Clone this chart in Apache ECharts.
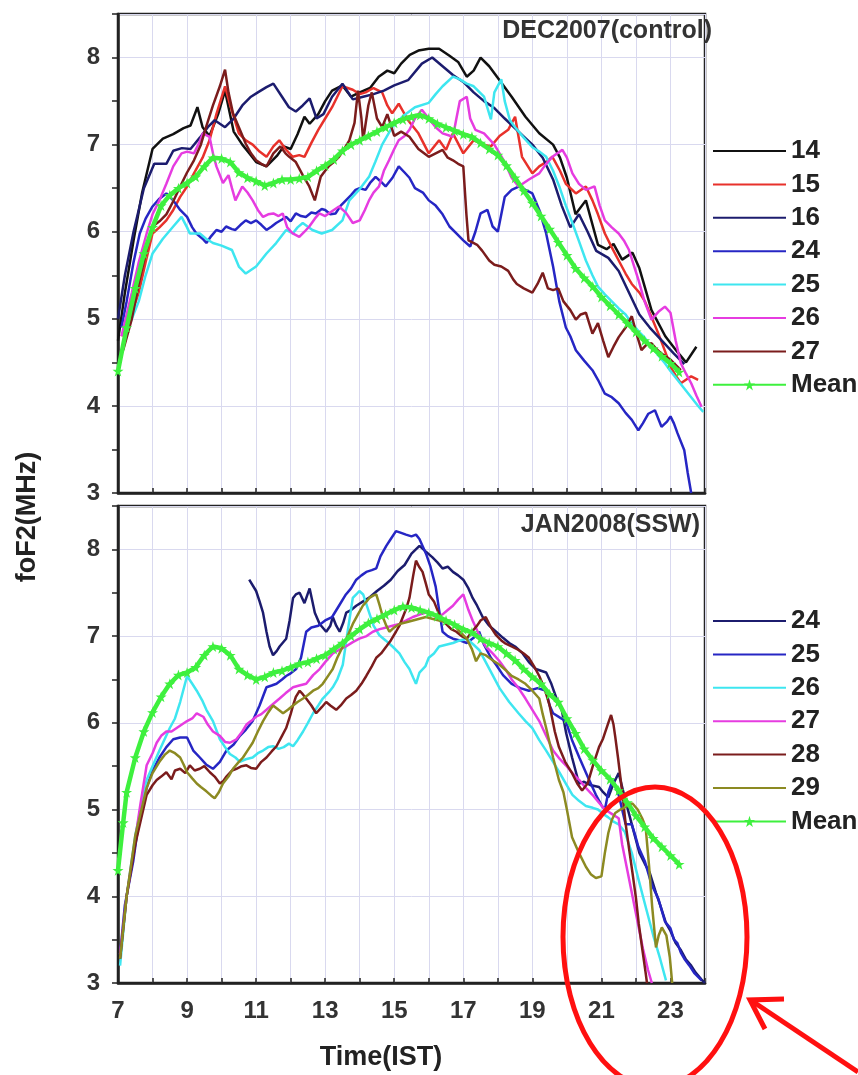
<!DOCTYPE html>
<html>
<head>
<meta charset="utf-8">
<title>foF2 DEC2007 / JAN2008</title>
<script src="https://cdn.jsdelivr.net/npm/echarts@6/dist/echarts.min.js"></script>
<style>
  html, body { margin: 0; padding: 0; background: #fff; }
  #main { width: 858px; height: 1075px; }
</style>
</head>
<body>
<div id="main"></div>
<script>
// x 轴刻度 (IST 小时)
var hourTicks = [7, 9, 11, 13, 15, 17, 19, 21, 23];

// DEC2007 (control): [time, foF2]
var dec14 = [[7.0,4.75],[7.2,5.3],[7.45,5.9],[7.7,6.45],[8.0,6.95],[8.3,7.07],[8.6,7.12],[8.9,7.19],[9.1,7.22],[9.3,7.43],[9.45,7.2],[9.65,7.1],[9.9,7.35],[10.1,7.62],[10.35,7.15],[10.6,7.0],[10.8,6.9],[11.0,6.8],[11.3,6.75],[11.6,6.87],[11.8,6.98],[12.0,6.95],[12.2,7.12],[12.4,7.32],[12.55,7.24],[12.8,7.35],[13.0,7.5],[13.2,7.62],[13.5,7.68],[13.75,7.55],[14.0,7.6],[14.3,7.65],[14.55,7.78],[14.8,7.85],[15.0,7.82],[15.2,7.93],[15.45,8.03],[15.7,8.08],[16.0,8.1],[16.3,8.1],[16.6,8.02],[16.85,7.95],[17.1,7.78],[17.3,7.85],[17.5,8.0],[17.75,7.9],[18.05,7.74],[18.4,7.55],[18.8,7.32],[19.2,7.13],[19.6,7.0],[19.8,6.85],[20.0,6.62],[20.25,6.2],[20.55,6.36],[20.9,5.85],[21.15,5.8],[21.35,5.86],[21.6,5.68],[21.9,5.76],[22.1,5.58],[22.45,5.1],[22.85,4.8],[23.2,4.62],[23.45,4.5],[23.75,4.68]];
var dec15 = [[7.1,4.8],[7.35,5.0],[7.6,5.3],[7.8,5.65],[8.0,5.98],[8.2,6.05],[8.4,6.13],[8.6,6.25],[8.8,6.4],[9.0,6.52],[9.2,6.67],[9.45,6.85],[9.65,7.05],[9.85,7.35],[10.1,7.67],[10.25,7.45],[10.5,7.13],[10.7,7.05],[10.9,7.0],[11.1,6.92],[11.3,6.86],[11.5,6.98],[11.67,7.05],[11.85,6.95],[12.06,6.86],[12.25,6.88],[12.4,6.86],[12.6,7.02],[12.8,7.17],[13.0,7.3],[13.2,7.43],[13.35,7.55],[13.5,7.67],[13.8,7.63],[14.0,7.58],[14.17,7.6],[14.4,7.65],[14.65,7.6],[14.8,7.45],[14.94,7.36],[15.13,7.47],[15.4,7.28],[15.7,7.13],[16.0,6.9],[16.3,7.05],[16.5,6.94],[16.7,7.13],[17.0,6.9],[17.3,7.05],[17.6,7.0],[17.8,6.98],[18.05,7.1],[18.3,7.17],[18.5,7.32],[18.7,6.86],[19.0,6.67],[19.2,6.75],[19.4,6.8],[19.58,6.86],[19.8,6.7],[19.97,6.55],[20.26,6.44],[20.55,6.52],[20.74,6.36],[20.9,6.2],[21.1,5.98],[21.3,5.82],[21.5,5.67],[21.7,5.52],[21.88,5.4],[22.1,5.3],[22.26,5.2],[22.45,5.02],[22.65,4.83],[22.85,4.62],[23.0,4.45],[23.15,4.35],[23.3,4.26],[23.45,4.3],[23.6,4.34],[23.8,4.3]];
var dec16 = [[7.0,5.0],[7.2,5.5],[7.45,6.0],[7.75,6.5],[8.05,6.78],[8.4,6.78],[8.6,6.93],[8.85,6.96],[9.1,6.95],[9.37,7.08],[9.6,7.2],[9.8,7.28],[10.1,7.2],[10.35,7.3],[10.6,7.45],[10.85,7.55],[11.05,7.6],[11.3,7.66],[11.5,7.7],[11.75,7.55],[11.95,7.43],[12.15,7.38],[12.35,7.45],[12.55,7.53],[12.75,7.3],[12.95,7.35],[13.2,7.55],[13.5,7.7],[13.8,7.52],[14.1,7.55],[14.4,7.58],[14.7,7.62],[15.0,7.68],[15.4,7.74],[15.8,7.93],[16.1,8.0],[16.4,7.9],[16.7,7.8],[17.0,7.72],[17.3,7.6],[17.6,7.5],[17.9,7.42],[18.2,7.3],[18.6,7.15],[19.0,7.0],[19.3,6.85],[19.6,6.6],[19.85,6.3],[20.1,6.05],[20.35,6.2],[20.6,6.0],[20.85,5.78],[21.2,5.7],[21.5,5.55],[21.8,5.3],[22.1,5.05],[22.4,4.9],[22.75,4.75],[23.1,4.6],[23.4,4.48]];
var dec24 = [[7.1,4.9],[7.25,5.2],[7.45,5.65],[7.63,5.98],[7.8,6.15],[8.0,6.29],[8.2,6.38],[8.4,6.44],[8.6,6.36],[8.8,6.25],[9.0,6.17],[9.15,6.05],[9.27,5.98],[9.45,5.92],[9.56,5.87],[9.7,5.95],[9.85,6.02],[10.0,6.0],[10.13,6.06],[10.3,6.03],[10.4,6.02],[10.55,6.08],[10.7,6.13],[10.85,6.1],[11.0,6.13],[11.15,6.08],[11.3,6.02],[11.45,6.06],[11.58,6.1],[11.75,6.14],[11.87,6.17],[12.0,6.12],[12.15,6.21],[12.3,6.18],[12.44,6.17],[12.6,6.22],[12.73,6.21],[12.9,6.26],[13.0,6.25],[13.15,6.2],[13.3,6.21],[13.45,6.3],[13.6,6.36],[13.75,6.42],[13.88,6.48],[14.0,6.5],[14.17,6.48],[14.3,6.56],[14.46,6.63],[14.6,6.58],[14.75,6.52],[14.95,6.62],[15.13,6.75],[15.3,6.68],[15.44,6.62],[15.6,6.5],[15.83,6.45],[16.0,6.36],[16.2,6.3],[16.4,6.2],[16.6,6.06],[16.8,5.98],[17.0,5.9],[17.2,5.83],[17.35,6.0],[17.5,6.21],[17.7,6.25],[17.85,6.06],[18.0,6.0],[18.2,6.4],[18.4,6.48],[18.62,6.52],[18.8,6.48],[19.0,6.44],[19.2,6.25],[19.4,5.98],[19.6,5.6],[19.78,5.2],[19.97,4.9],[20.1,4.8],[20.26,4.64],[20.5,4.52],[20.74,4.41],[20.9,4.3],[21.1,4.14],[21.3,4.1],[21.5,4.03],[21.7,3.92],[21.88,3.84],[22.07,3.72],[22.2,3.8],[22.36,3.91],[22.55,3.95],[22.74,3.76],[22.9,3.82],[23.0,3.88],[23.1,3.8],[23.2,3.69],[23.4,3.49],[23.5,3.23],[23.6,3.0]];
var dec25 = [[7.1,4.6],[7.35,4.95],[7.6,5.2],[7.8,5.5],[8.0,5.75],[8.3,5.92],[8.6,6.06],[8.84,6.17],[9.0,6.05],[9.08,5.98],[9.37,5.98],[9.55,5.92],[9.75,5.87],[10.0,5.84],[10.3,5.79],[10.5,5.6],[10.7,5.52],[10.85,5.56],[11.0,5.6],[11.3,5.75],[11.58,5.87],[11.87,6.02],[12.06,5.98],[12.2,6.05],[12.35,6.1],[12.63,6.02],[12.9,5.98],[13.2,6.02],[13.5,6.13],[13.7,6.36],[13.98,6.48],[14.27,6.63],[14.45,6.8],[14.65,7.0],[14.94,7.2],[15.23,7.32],[15.6,7.43],[16.0,7.48],[16.2,7.58],[16.4,7.67],[16.7,7.78],[16.9,7.75],[17.1,7.7],[17.3,7.67],[17.6,7.55],[17.8,7.29],[17.9,7.6],[18.1,7.75],[18.2,7.5],[18.35,7.28],[18.5,7.2],[18.75,7.08],[19.0,6.97],[19.2,6.92],[19.4,6.86],[19.6,6.7],[19.78,6.52],[19.97,6.3],[20.16,6.1],[20.36,5.88],[20.55,5.67],[20.74,5.5],[20.9,5.37],[21.1,5.28],[21.3,5.2],[21.5,5.12],[21.7,5.05],[21.88,4.95],[22.07,4.86],[22.26,4.78],[22.45,4.68],[22.65,4.58],[22.84,4.49],[23.0,4.4],[23.2,4.3],[23.4,4.2],[23.6,4.1],[23.8,4.0],[23.95,3.93]];
var dec26 = [[7.1,4.8],[7.4,5.3],[7.6,5.65],[7.83,5.98],[8.0,6.2],[8.2,6.36],[8.4,6.55],[8.6,6.75],[8.84,6.9],[9.0,6.92],[9.2,6.9],[9.35,7.02],[9.46,7.13],[9.65,7.09],[9.75,6.9],[9.85,6.75],[10.04,6.56],[10.2,6.65],[10.3,6.5],[10.4,6.36],[10.6,6.52],[10.75,6.45],[10.9,6.36],[11.05,6.25],[11.2,6.17],[11.35,6.2],[11.5,6.21],[11.65,6.18],[11.77,6.21],[11.9,6.05],[12.06,5.98],[12.25,5.94],[12.4,6.0],[12.54,6.06],[12.7,6.15],[12.83,6.21],[13.0,6.18],[13.1,6.21],[13.25,6.25],[13.4,6.29],[13.6,6.22],[13.8,6.1],[14.0,6.13],[14.15,6.25],[14.27,6.36],[14.4,6.45],[14.56,6.52],[14.7,6.7],[14.85,6.82],[15.0,6.95],[15.13,7.05],[15.3,7.1],[15.44,7.17],[15.6,7.3],[15.8,7.4],[16.0,7.3],[16.2,7.2],[16.4,7.13],[16.7,7.09],[16.8,7.3],[16.9,7.5],[17.1,7.55],[17.2,7.3],[17.35,7.17],[17.6,7.13],[17.9,7.0],[18.2,6.8],[18.4,6.62],[18.6,6.52],[18.9,6.6],[19.2,6.67],[19.4,6.78],[19.58,6.86],[19.87,6.94],[20.0,6.85],[20.16,6.67],[20.35,6.55],[20.55,6.48],[20.8,6.52],[20.95,6.3],[21.1,6.13],[21.3,6.05],[21.5,5.98],[21.65,5.9],[21.8,5.79],[21.95,5.6],[22.07,5.45],[22.25,5.2],[22.45,4.99],[22.65,5.08],[22.84,5.14],[23.0,5.07],[23.15,4.75],[23.3,4.49],[23.45,4.37],[23.6,4.26],[23.75,4.12],[23.9,3.99]];
var dec27 = [[7.15,4.64],[7.4,5.0],[7.6,5.4],[7.8,5.75],[8.0,6.06],[8.2,6.12],[8.4,6.2],[8.6,6.35],[8.8,6.52],[9.0,6.68],[9.2,6.82],[9.4,7.0],[9.55,7.2],[9.75,7.45],[9.95,7.67],[10.1,7.86],[10.2,7.6],[10.33,7.36],[10.5,7.2],[10.7,7.01],[10.85,6.9],[11.0,6.82],[11.15,6.78],[11.3,6.75],[11.5,6.9],[11.7,6.98],[11.85,6.9],[11.96,6.86],[12.15,6.8],[12.35,6.65],[12.54,6.52],[12.7,6.36],[12.87,6.63],[13.0,6.7],[13.1,6.75],[13.25,6.8],[13.4,6.86],[13.55,6.95],[13.7,7.05],[13.85,7.25],[13.95,7.62],[14.05,7.3],[14.1,7.05],[14.25,7.45],[14.35,7.6],[14.5,7.3],[14.65,7.2],[14.8,7.35],[15.0,7.1],[15.2,7.15],[15.44,7.09],[15.7,6.95],[16.0,6.86],[16.2,6.9],[16.4,6.94],[16.55,6.85],[16.7,6.82],[16.85,6.78],[17.0,6.75],[17.09,6.2],[17.15,5.9],[17.25,5.88],[17.4,5.85],[17.55,5.78],[17.75,5.67],[17.9,5.62],[18.1,5.6],[18.3,5.55],[18.45,5.45],[18.55,5.4],[18.75,5.35],[19.0,5.3],[19.15,5.4],[19.3,5.53],[19.45,5.35],[19.6,5.33],[19.75,5.35],[19.9,5.2],[20.1,5.1],[20.26,4.99],[20.4,5.05],[20.55,5.07],[20.74,4.83],[20.9,4.95],[21.05,4.75],[21.2,4.56],[21.35,4.68],[21.5,4.79],[21.7,4.9],[21.88,5.03],[22.0,4.85],[22.16,4.64],[22.3,4.7],[22.45,4.72],[22.6,4.65],[22.74,4.6],[22.9,4.56],[23.0,4.53],[23.15,4.47],[23.3,4.41]];
var decMean = [[7.0,4.4],[7.25,4.9],[7.5,5.35],[7.75,5.75],[8.0,6.05],[8.25,6.3],[8.5,6.42],[8.75,6.5],[9.0,6.56],[9.25,6.63],[9.5,6.75],[9.75,6.85],[10.0,6.84],[10.25,6.8],[10.5,6.68],[10.75,6.62],[11.0,6.58],[11.25,6.53],[11.5,6.56],[11.75,6.6],[12.0,6.6],[12.25,6.61],[12.5,6.63],[12.75,6.7],[13.0,6.76],[13.25,6.83],[13.5,6.93],[13.75,7.0],[14.0,7.05],[14.25,7.1],[14.5,7.15],[14.75,7.2],[15.0,7.25],[15.25,7.29],[15.5,7.32],[15.75,7.34],[16.0,7.3],[16.25,7.24],[16.5,7.2],[16.75,7.16],[17.0,7.12],[17.25,7.09],[17.5,7.02],[17.75,6.95],[18.0,6.88],[18.25,6.76],[18.5,6.62],[18.75,6.47],[19.0,6.33],[19.25,6.18],[19.5,6.03],[19.75,5.88],[20.0,5.73],[20.25,5.58],[20.5,5.47],[20.75,5.37],[21.0,5.25],[21.25,5.15],[21.5,5.05],[21.75,4.95],[22.0,4.85],[22.25,4.75],[22.5,4.66],[22.75,4.57],[23.0,4.49],[23.25,4.39]];

// JAN2008 (SSW)
var jan24 = [[10.8,7.65],[11.0,7.52],[11.1,7.4],[11.2,7.27],[11.3,7.05],[11.39,6.88],[11.49,6.78],[11.6,6.83],[11.68,6.88],[11.87,6.97],[11.97,7.18],[12.07,7.44],[12.15,7.48],[12.26,7.5],[12.4,7.38],[12.55,7.55],[12.7,7.27],[12.84,7.14],[13.03,7.05],[13.15,7.12],[13.22,7.22],[13.32,7.12],[13.42,7.05],[13.52,7.15],[13.61,7.27],[13.75,7.3],[13.9,7.35],[14.1,7.4],[14.3,7.45],[14.5,7.52],[14.7,7.58],[14.9,7.65],[15.1,7.75],[15.3,7.82],[15.5,7.95],[15.73,8.04],[15.9,7.98],[16.1,7.91],[16.25,7.85],[16.4,7.78],[16.55,7.8],[16.7,7.74],[16.85,7.7],[17.0,7.65],[17.15,7.55],[17.27,7.44],[17.4,7.35],[17.56,7.22],[17.75,7.12],[17.95,7.05],[18.15,6.98],[18.33,6.92],[18.5,6.88],[18.72,6.8],[18.9,6.7],[19.1,6.62],[19.25,6.6],[19.4,6.58],[19.55,6.45],[19.7,6.28],[19.85,6.15],[19.98,5.88],[20.15,5.6],[20.35,5.3],[20.5,5.32],[20.7,5.28],[20.93,5.26],[21.05,5.2],[21.2,5.14],[21.35,5.3],[21.5,5.42],[21.7,5.1],[21.9,4.8],[22.1,4.5],[22.25,4.38],[22.4,4.27],[22.58,4.04],[22.7,3.9],[22.87,3.69],[23.0,3.6],[23.15,3.46],[23.3,3.38],[23.45,3.27],[23.6,3.2],[23.73,3.12],[23.9,3.04],[24.0,3.0]];
var jan25 = [[7.06,3.33],[7.2,3.9],[7.44,4.4],[7.6,4.85],[7.83,5.25],[8.0,5.45],[8.2,5.6],[8.4,5.72],[8.6,5.81],[8.8,5.83],[9.0,5.83],[9.18,5.68],[9.37,5.6],[9.55,5.52],[9.75,5.47],[9.95,5.55],[10.14,5.68],[10.35,5.75],[10.53,5.85],[10.7,5.92],[10.9,6.02],[11.1,6.2],[11.3,6.41],[11.45,6.43],[11.59,6.45],[11.75,6.5],[11.87,6.54],[12.0,6.57],[12.16,6.62],[12.3,6.75],[12.45,7.05],[12.6,7.1],[12.8,7.12],[13.0,7.18],[13.2,7.22],[13.4,7.35],[13.6,7.48],[13.75,7.55],[13.9,7.65],[14.05,7.7],[14.19,7.74],[14.35,7.76],[14.48,7.78],[14.6,7.92],[14.77,8.04],[14.9,8.12],[15.05,8.21],[15.2,8.19],[15.34,8.17],[15.5,8.15],[15.63,8.17],[15.73,8.12],[15.92,7.95],[16.05,7.8],[16.2,7.57],[16.3,7.3],[16.4,7.05],[16.55,7.0],[16.7,6.97],[16.9,6.95],[17.1,6.92],[17.3,6.98],[17.46,7.05],[17.6,6.9],[17.8,6.75],[17.95,6.67],[18.15,6.55],[18.4,6.45],[18.65,6.4],[18.9,6.37],[19.15,6.4],[19.4,6.37],[19.5,6.2],[19.6,6.11],[19.8,6.06],[19.97,6.02],[20.15,5.8],[20.36,5.6],[20.6,5.38],[20.84,5.17],[21.0,5.05],[21.1,5.0],[21.2,5.2],[21.33,5.34],[21.42,5.25],[21.5,5.17],[21.6,5.0],[21.7,4.83],[21.88,4.83],[21.98,4.7],[22.07,4.57],[22.26,4.4],[22.45,4.14],[22.65,3.97],[22.84,3.71],[23.0,3.63],[23.1,3.5],[23.2,3.46],[23.3,3.35],[23.4,3.28],[23.55,3.2],[23.7,3.11],[23.9,3.03]];
var jan26 = [[7.06,3.2],[7.25,4.0],[7.5,4.7],[7.83,5.34],[8.0,5.5],[8.2,5.68],[8.5,5.94],[8.65,6.05],[8.8,6.24],[9.0,6.54],[9.15,6.45],[9.28,6.37],[9.45,6.25],[9.56,6.15],[9.75,6.02],[9.95,5.81],[10.1,5.72],[10.24,5.64],[10.4,5.6],[10.53,5.55],[10.7,5.58],[10.9,5.6],[11.05,5.65],[11.2,5.68],[11.35,5.72],[11.49,5.73],[11.65,5.7],[11.8,5.72],[11.95,5.76],[12.07,5.73],[12.2,5.8],[12.36,5.9],[12.5,6.0],[12.65,6.11],[12.8,6.2],[12.93,6.28],[13.1,6.35],[13.22,6.41],[13.35,6.5],[13.51,6.67],[13.65,7.05],[13.8,7.44],[13.9,7.48],[13.99,7.52],[14.1,7.48],[14.25,7.3],[14.4,7.12],[14.57,7.01],[14.75,6.95],[14.95,6.88],[15.15,6.8],[15.3,6.7],[15.44,6.62],[15.55,6.52],[15.63,6.45],[15.73,6.58],[15.9,6.65],[16.0,6.75],[16.15,6.8],[16.3,6.88],[16.5,6.9],[16.7,6.92],[16.9,6.95],[17.1,6.97],[17.3,6.9],[17.46,6.84],[17.65,6.7],[17.85,6.55],[18.05,6.4],[18.33,6.24],[18.6,6.11],[18.8,6.02],[19.0,5.94],[19.2,5.8],[19.4,5.68],[19.6,5.55],[19.78,5.43],[19.97,5.3],[20.16,5.17],[20.35,5.1],[20.55,5.04],[20.75,5.02],[20.9,5.0],[21.05,4.95],[21.2,4.91],[21.35,4.86],[21.5,4.83],[21.68,4.74],[21.88,4.5],[22.07,4.2],[22.3,3.85],[22.5,3.55],[22.7,3.28],[22.87,3.03]];
var jan27 = [[7.06,3.33],[7.25,4.0],[7.44,4.5],[7.64,5.04],[7.83,5.51],[8.0,5.65],[8.12,5.77],[8.25,5.85],[8.4,5.9],[8.55,5.9],[8.7,5.94],[8.85,5.98],[9.0,6.02],[9.15,6.05],[9.28,6.11],[9.47,6.07],[9.6,5.98],[9.75,5.9],[9.95,5.85],[10.1,5.78],[10.24,5.77],[10.43,5.81],[10.6,5.9],[10.72,5.98],[10.85,6.02],[11.0,6.07],[11.15,6.1],[11.3,6.15],[11.5,6.22],[11.68,6.28],[11.85,6.34],[12.07,6.41],[12.25,6.43],[12.45,6.45],[12.65,6.55],[12.84,6.62],[13.0,6.7],[13.22,6.8],[13.4,6.84],[13.6,6.88],[13.8,6.93],[13.99,6.97],[14.2,7.0],[14.38,7.05],[14.58,7.08],[14.77,7.1],[14.95,7.12],[15.15,7.14],[15.35,7.18],[15.54,7.22],[15.75,7.25],[16.0,7.28],[16.2,7.22],[16.4,7.25],[16.55,7.3],[16.7,7.35],[16.85,7.42],[17.0,7.48],[17.15,7.3],[17.27,7.18],[17.45,7.02],[17.65,6.88],[17.85,6.8],[18.05,6.71],[18.25,6.6],[18.4,6.5],[18.6,6.4],[18.8,6.28],[19.0,6.15],[19.2,6.02],[19.4,5.85],[19.6,5.68],[19.8,5.58],[19.97,5.51],[20.16,5.42],[20.36,5.34],[20.55,5.25],[20.74,5.17],[20.93,5.08],[21.1,5.0],[21.3,4.95],[21.5,4.9],[21.6,4.6],[21.75,4.3],[21.9,4.0],[22.05,3.7],[22.2,3.4],[22.35,3.15],[22.46,3.0]];
var jan28 = [[7.06,3.28],[7.25,4.0],[7.5,4.6],[7.83,5.17],[8.0,5.28],[8.12,5.34],[8.25,5.38],[8.4,5.43],[8.55,5.35],[8.65,5.45],[8.8,5.47],[8.95,5.42],[9.08,5.51],[9.22,5.45],[9.37,5.47],[9.5,5.5],[9.66,5.43],[9.8,5.38],[9.95,5.3],[10.05,5.33],[10.14,5.38],[10.3,5.45],[10.43,5.47],[10.58,5.5],[10.72,5.51],[10.85,5.48],[11.0,5.47],[11.15,5.55],[11.3,5.6],[11.45,5.67],[11.59,5.73],[11.75,5.85],[11.87,5.94],[12.0,6.1],[12.07,6.2],[12.15,6.3],[12.26,6.37],[12.35,6.33],[12.45,6.28],[12.6,6.2],[12.74,6.11],[12.9,6.18],[13.03,6.24],[13.15,6.2],[13.32,6.15],[13.45,6.2],[13.61,6.28],[13.75,6.32],[13.9,6.37],[14.05,6.45],[14.19,6.54],[14.35,6.65],[14.48,6.75],[14.62,6.8],[14.77,6.88],[14.9,6.95],[15.05,7.05],[15.15,7.12],[15.25,7.22],[15.35,7.32],[15.44,7.44],[15.55,7.7],[15.63,7.87],[15.72,7.8],[15.82,7.74],[15.92,7.6],[16.0,7.48],[16.15,7.4],[16.3,7.25],[16.5,7.14],[16.65,7.08],[16.8,7.05],[16.95,7.0],[17.1,6.97],[17.25,7.05],[17.4,7.12],[17.5,7.18],[17.65,7.22],[17.8,7.1],[17.95,7.01],[18.1,6.95],[18.2,6.92],[18.4,6.88],[18.6,6.84],[18.75,6.8],[18.9,6.75],[19.05,6.65],[19.2,6.54],[19.35,6.4],[19.5,6.2],[19.65,5.9],[19.77,5.72],[19.95,5.55],[20.15,5.42],[20.3,5.3],[20.44,5.22],[20.6,5.3],[20.75,5.5],[20.93,5.72],[21.05,5.82],[21.1,5.88],[21.2,6.0],[21.28,6.09],[21.35,5.98],[21.4,5.84],[21.48,5.6],[21.56,5.34],[21.63,5.1],[21.7,4.84],[21.8,4.55],[21.9,4.27],[22.0,3.98],[22.08,3.69],[22.18,3.4],[22.28,3.12],[22.32,3.0]];
var jan29 = [[7.06,3.28],[7.25,4.0],[7.5,4.7],[7.83,5.25],[8.0,5.42],[8.2,5.55],[8.35,5.63],[8.5,5.68],[8.65,5.65],[8.8,5.6],[8.9,5.52],[9.0,5.43],[9.15,5.36],[9.28,5.3],[9.4,5.26],[9.56,5.21],[9.7,5.16],[9.8,5.13],[9.92,5.2],[10.04,5.3],[10.2,5.38],[10.33,5.47],[10.5,5.55],[10.62,5.6],[10.75,5.68],[10.9,5.77],[11.05,5.9],[11.2,6.02],[11.35,6.12],[11.49,6.2],[11.65,6.15],[11.78,6.11],[11.92,6.15],[12.07,6.2],[12.2,6.24],[12.36,6.28],[12.5,6.32],[12.65,6.37],[12.8,6.4],[12.93,6.45],[13.1,6.55],[13.22,6.62],[13.35,6.75],[13.51,6.88],[13.65,7.0],[13.8,7.14],[13.95,7.25],[14.09,7.35],[14.2,7.4],[14.28,7.44],[14.4,7.47],[14.48,7.48],[14.58,7.35],[14.67,7.22],[14.77,7.12],[14.86,7.05],[15.0,7.1],[15.15,7.14],[15.35,7.16],[15.54,7.18],[15.73,7.2],[15.92,7.22],[16.1,7.2],[16.3,7.18],[16.5,7.16],[16.7,7.14],[16.9,7.05],[17.1,6.97],[17.25,6.85],[17.37,6.71],[17.5,6.8],[17.65,6.78],[17.85,6.72],[18.05,6.67],[18.25,6.6],[18.4,6.54],[18.6,6.5],[18.8,6.45],[19.0,6.37],[19.2,6.28],[19.3,6.1],[19.4,5.94],[19.5,5.77],[19.6,5.6],[19.77,5.34],[19.9,5.2],[20.0,5.0],[20.15,4.68],[20.35,4.5],[20.55,4.34],[20.7,4.25],[20.84,4.21],[21.0,4.23],[21.1,4.5],[21.2,4.73],[21.3,4.88],[21.4,4.96],[21.55,5.0],[21.7,5.03],[21.9,5.07],[22.05,5.0],[22.18,4.9],[22.28,4.8],[22.38,4.35],[22.47,3.88],[22.58,3.41],[22.66,3.55],[22.75,3.64],[22.88,3.55],[22.98,3.3],[23.05,3.0]];
var janMean = [[7.0,4.3],[7.15,4.85],[7.25,5.2],[7.5,5.6],[7.75,5.9],[8.0,6.12],[8.25,6.3],[8.5,6.45],[8.75,6.55],[9.0,6.58],[9.25,6.64],[9.5,6.78],[9.75,6.88],[10.0,6.86],[10.25,6.78],[10.5,6.62],[10.75,6.55],[11.0,6.5],[11.25,6.53],[11.5,6.58],[11.75,6.6],[12.0,6.64],[12.25,6.68],[12.5,6.7],[12.75,6.74],[13.0,6.78],[13.25,6.85],[13.5,6.92],[13.75,7.0],[14.0,7.08],[14.25,7.15],[14.5,7.2],[14.75,7.25],[15.0,7.3],[15.25,7.34],[15.5,7.33],[15.75,7.3],[16.0,7.27],[16.25,7.23],[16.5,7.18],[16.75,7.13],[17.0,7.08],[17.25,7.04],[17.5,6.97],[17.75,6.92],[18.0,6.88],[18.25,6.8],[18.5,6.72],[18.75,6.62],[19.0,6.53],[19.25,6.45],[19.5,6.33],[19.75,6.24],[20.0,6.05],[20.25,5.88],[20.5,5.7],[20.75,5.57],[21.0,5.45],[21.25,5.35],[21.5,5.22],[21.75,5.08],[22.0,4.93],[22.25,4.8],[22.5,4.67],[22.75,4.57],[23.0,4.47],[23.25,4.37]];

var decDays = ['14', '15', '16', '24', '25', '26', '27'];
var decData = [dec14, dec15, dec16, dec24, dec25, dec26, dec27];
var decColors = ['#111111', '#e8312b', '#1c1c6e', '#2626c4', '#3ee6f0', '#e63ce0', '#7b1c1c'];
var janDays = ['24', '25', '26', '27', '28', '29'];
var janData = [jan24, jan25, jan26, jan27, jan28, jan29];
var janColors = ['#1c1c6e', '#2626c4', '#3ee6f0', '#e63ce0', '#7b1c1c', '#8c8a22'];

(function () {
  var myChart = echarts.init(document.getElementById('main'));

  var star = 'path://M50,0 L61,35 L98,35 L68,57 L79,91 L50,70 L21,91 L32,57 L2,35 L39,35 Z';
  var font = 'Liberation Sans, Arial, sans-serif';
  var gridColor = '#d9d9ef';
  var green = '#3ef03e';

  function xAxisFor(idx, showLabel) {
    return {
      type: 'value', gridIndex: idx, min: 7, max: 24, interval: 1,
      axisLine: { show: true, onZero: false, lineStyle: { color: '#222', width: 2.5 } },
      axisTick: { show: true, inside: true, length: 5, lineStyle: { color: '#222', width: 1.5 } },
      axisLabel: {
        show: showLabel, margin: 16, color: '#333', fontSize: 24, fontWeight: 'bold', fontFamily: font,
        formatter: function (v) { return hourTicks.indexOf(v) >= 0 ? String(v) : ''; }
      },
      splitLine: { show: true, lineStyle: { color: gridColor, width: 1 } }
    };
  }

  function yAxesFor(idx) {
    return [{
      type: 'value', gridIndex: idx, min: 3, max: 8.5, interval: 0.5,
      axisLine: { show: true, onZero: false, lineStyle: { color: '#222', width: 2.5 } },
      axisTick: { show: true, inside: false, length: 6, lineStyle: { color: '#222', width: 1.5 } },
      axisLabel: {
        margin: 18, color: '#333', fontSize: 24, fontWeight: 'bold', fontFamily: font,
        formatter: function (v) { return v % 1 === 0 ? String(v) : ''; }
      },
      splitLine: { show: false }
    }, {
      // 只画整数网格线
      type: 'value', gridIndex: idx, min: 3, max: 8.5, interval: 1, position: 'left',
      axisLine: { show: false }, axisTick: { show: false }, axisLabel: { show: false },
      splitLine: { show: true, lineStyle: { color: gridColor, width: 1 } }
    }];
  }

  var series = [];
  function addPanel(prefix, days, data, colors, mean, idx) {
    for (var i = 0; i < days.length; i++) {
      series.push({
        name: prefix + ' ' + days[i], type: 'line',
        xAxisIndex: idx, yAxisIndex: idx * 2,
        data: data[i], showSymbol: false, symbol: 'none',
        color: colors[i],
        lineStyle: { color: colors[i], width: 2.5 }
      });
    }
    series.push({
      name: prefix + ' Mean', type: 'line',
      xAxisIndex: idx, yAxisIndex: idx * 2,
      data: mean, symbol: star, symbolSize: 11, showSymbol: true,
      color: green,
      itemStyle: { color: green },
      lineStyle: { color: green, width: 4.5 },
      z: 5
    });
  }
  addPanel('DEC', decDays, decData, decColors, decMean, 0);
  addPanel('JAN', janDays, janData, janColors, janMean, 1);

  function legendFor(prefix, days, top) {
    var items = days.map(function (d) {
      // 图例只要线条，不要圆点
      return { name: prefix + ' ' + d, itemStyle: { opacity: 0 } };
    });
    items.push({ name: prefix + ' Mean' });
    return {
      orient: 'vertical', left: 707, top: top, itemGap: 7.4,
      itemWidth: 73, itemHeight: 14, selectedMode: false,
      data: items,
      formatter: function (name) { return name.split(' ')[1]; },
      textStyle: { fontSize: 26, lineHeight: 26, fontWeight: 'bold', color: '#222', fontFamily: font }
    };
  }

  var option = {
    animation: false,
    backgroundColor: '#fff',
    grid: [
      { left: 118, top: 14, width: 587, height: 479, show: true, borderColor: '#222', borderWidth: 2.5, backgroundColor: '#fff' },
      { left: 118, top: 506, width: 587, height: 477, show: true, borderColor: '#222', borderWidth: 2.5, backgroundColor: '#fff' }
    ],
    xAxis: [xAxisFor(0, false), xAxisFor(1, true)],
    yAxis: yAxesFor(0).concat(yAxesFor(1)),
    legend: [
      legendFor('DEC', decDays, 133),
      legendFor('JAN', janDays, 603)
    ],
    graphic: [
      { type: 'text', x: 712, y: 31, z: 10,
        style: { text: 'DEC2007(control)', fill: '#333', font: 'bold 25px ' + font, textAlign: 'right', textVerticalAlign: 'middle' } },
      { type: 'text', x: 700, y: 525, z: 10,
        style: { text: 'JAN2008(SSW)', fill: '#333', font: 'bold 25px ' + font, textAlign: 'right', textVerticalAlign: 'middle' } },
      { type: 'text', x: 28, y: 517, rotation: Math.PI / 2, z: 10,
        style: { text: 'foF2(MHz)', fill: '#222', font: 'bold 27px ' + font, textAlign: 'center', textVerticalAlign: 'middle' } },
      { type: 'text', x: 381, y: 1058, z: 10,
        style: { text: 'Time(IST)', fill: '#222', font: 'bold 27px ' + font, textAlign: 'center', textVerticalAlign: 'middle' } },
      // 红色圈注和箭头
      { type: 'ellipse', z: 20, silent: true,
        shape: { cx: 655, cy: 937, rx: 92, ry: 150 },
        style: { fill: 'none', stroke: '#ff1010', lineWidth: 5 } },
      { type: 'line', z: 20, silent: true,
        shape: { x1: 858, y1: 1072, x2: 752, y2: 1001 },
        style: { stroke: '#ff1010', lineWidth: 5 } },
      { type: 'polyline', z: 20, silent: true,
        shape: { points: [[765, 1029], [750, 1000], [784, 999]] },
        style: { stroke: '#ff1010', lineWidth: 5, fill: 'none', lineJoin: 'miter' } }
    ],
    series: series
  };

  myChart.setOption(option);
})();
</script>
</body>
</html>
